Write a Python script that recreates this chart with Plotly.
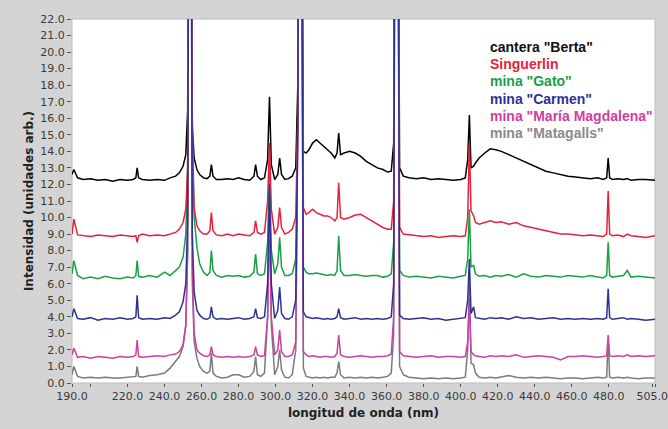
import plotly.graph_objects as go

# Wavelength grid (nm)
wavelength = [
    190, 191, 193, 196, 200, 204, 208, 212, 216, 220,
    223, 224.5, 225.2, 226, 228, 232, 236, 240, 243, 246,
    248, 250, 251.5, 252.5, 253.3, 253.7, 254.2, 255, 256, 257.5,
    259, 261, 263, 264.5, 265.3, 266.2, 268, 271, 274, 277,
    280, 283, 286, 288.3, 289.2, 290.2, 292, 294, 295.7, 296.7,
    297.7, 299.5, 301.2, 302.2, 303.2, 305, 307, 309, 310.9, 312,
    312.7, 313.2, 313.8, 315, 316.5, 318, 320, 322, 324, 326,
    328, 330, 332, 333.2, 334.1, 335.1, 337, 340, 343, 346,
    349, 352, 355, 358, 360.5, 362.5, 363.8, 364.6, 365.2, 365.9,
    367, 369, 372, 376, 380, 384, 388, 392, 396, 400,
    402.5, 403.8, 404.7, 405.6, 407, 408, 410, 413, 416, 419,
    422, 426, 430, 434, 438, 442, 446, 450, 454, 458,
    462, 466, 470, 474, 477, 478.9, 479.7, 480.5, 482, 485,
    488, 490, 492, 496, 500, 505,
]

berta = [
    12.6, 12.9, 12.4, 12.3, 12.35, 12.25, 12.3, 12.2, 12.3, 12.25,
    12.3, 12.4, 13.0, 12.4, 12.3, 12.25, 12.3, 12.25, 12.4, 12.5,
    12.7, 13.1, 13.8, 16.5, 40, 60, 40, 15.5, 13.6, 12.9,
    12.6, 12.4, 12.35, 12.5, 13.2, 12.5, 12.3, 12.3, 12.35, 12.3,
    12.4, 12.3, 12.25, 12.5, 13.2, 12.5, 12.3, 12.4, 13.5, 17.3,
    13.2, 12.3, 12.6, 13.6, 12.6, 12.3, 12.35, 12.5, 13.0, 18,
    40, 60, 40, 14.0, 13.9, 14.1, 14.5, 14.7, 14.5, 14.3,
    14.1, 13.9, 13.6, 13.9, 15.1, 13.8, 13.9, 14.0, 13.9, 13.7,
    13.4, 13.2, 13.0, 12.9, 12.75, 12.8, 14.5, 40, 60, 40,
    13.0, 12.5, 12.4, 12.35, 12.4, 12.3, 12.35, 12.3, 12.25, 12.3,
    12.4, 13.5, 16.2, 13.0, 13.1, 13.3, 13.6, 13.9, 14.15, 14.1,
    14.0, 13.8, 13.6, 13.4, 13.2, 13.0, 12.8, 12.7, 12.6, 12.5,
    12.45, 12.4, 12.35, 12.4, 12.3, 12.4, 13.6, 12.4, 12.3, 12.35,
    12.3, 12.35, 12.25, 12.3, 12.3, 12.25,
]

singuerlin = [
    9.0, 9.9, 8.95, 8.9, 8.85, 8.95, 8.9, 8.85, 8.95, 8.9,
    8.85, 8.9, 8.5, 8.9, 9.0, 8.9, 8.95, 8.9, 9.0, 9.1,
    9.3, 9.7, 10.5, 13, 40, 60, 40, 14, 10.6, 9.5,
    9.2, 9.0, 9.0, 9.2, 10.3, 9.2, 8.95, 8.9, 9.0, 8.9,
    9.0, 8.95, 8.9, 9.1, 9.8, 9.1, 9.0, 9.1, 11, 14.5,
    10.5, 9.0, 9.4, 10.6, 9.4, 9.0, 9.1, 9.3, 10.0, 16,
    40, 60, 40, 10.6, 10.2, 10.3, 10.5, 10.3, 10.2, 10.1,
    10.1, 10.0, 9.8, 10.0, 12.1, 10.0, 9.9, 10.0, 10.15, 10.2,
    10.0, 9.8, 9.6, 9.4, 9.3, 9.3, 11, 40, 60, 40,
    9.4, 9.0, 8.95, 8.9, 8.85, 8.9, 8.8, 8.85, 8.9, 8.85,
    8.9, 10.0, 14.5, 10.4, 10.1, 9.7, 9.6, 9.7, 9.8, 9.7,
    9.75, 9.6, 9.7, 9.5, 9.4, 9.3, 9.2, 9.1, 9.0, 9.0,
    8.95, 8.9, 8.95, 8.9, 8.85, 9.0, 11.6, 9.0, 8.9, 8.95,
    8.85, 9.0, 8.9, 8.85, 8.8, 8.9,
]

gato = [
    6.6, 7.4, 6.5, 6.3, 6.4, 6.3, 6.45, 6.35, 6.3, 6.4,
    6.35, 6.5, 7.4, 6.45, 6.4, 6.5, 6.4, 6.7, 6.5, 6.8,
    7.0, 7.6, 9.0, 13, 40, 60, 40, 16, 10, 8.2,
    7.2, 6.7, 6.5, 6.7, 8.0, 6.8, 6.5, 6.4, 6.5, 6.45,
    6.5, 6.4, 6.45, 6.7, 7.8, 6.6, 6.5, 6.6, 8.5, 13,
    8.0, 6.6, 7.2, 8.8, 7.0, 6.5, 6.5, 6.6, 7.5, 16,
    40, 60, 40, 7.0, 6.7, 6.6, 6.6, 6.65, 6.6, 6.55,
    6.5, 6.55, 6.5, 6.8, 8.9, 6.8, 6.5, 6.5, 6.55, 6.5,
    6.45, 6.5, 6.5, 6.4, 6.45, 6.6, 8.5, 40, 60, 40,
    6.8, 6.5, 6.4, 6.45, 6.4, 6.35, 6.45, 6.4, 6.35, 6.45,
    6.5, 7.5, 10.5, 7.0, 7.1, 6.6, 6.45, 6.5, 6.4, 6.5,
    6.45, 6.55, 6.4, 6.6, 6.45, 6.4, 6.5, 6.45, 6.4, 6.5,
    6.45, 6.4, 6.5, 6.4, 6.35, 6.5, 8.5, 6.5, 6.4, 6.45,
    6.5, 6.8, 6.4, 6.45, 6.4, 6.35,
]

carmen = [
    4.0, 4.5, 3.9, 3.85, 3.95, 3.8, 3.9, 3.85, 3.95, 3.85,
    3.9, 4.0, 5.3, 3.95, 3.85, 3.9, 3.85, 3.95, 3.9, 4.1,
    4.3, 4.9, 6.0, 10, 40, 60, 40, 9, 5.5, 4.4,
    4.1, 3.9, 3.85, 3.95, 4.6, 4.0, 3.85, 3.9, 3.85, 3.9,
    3.95, 3.85, 3.9, 4.0, 4.5, 3.95, 3.9, 4.0, 6, 12,
    6.0, 3.9, 4.4, 5.8, 4.2, 3.9, 3.85, 4.0, 5.0, 16,
    40, 60, 40, 4.3, 4.0, 3.95, 3.9, 3.95, 3.9, 3.85,
    3.9, 3.85, 3.9, 4.0, 4.5, 3.95, 3.85, 3.9, 3.95, 3.85,
    3.9, 3.85, 3.9, 3.85, 3.9, 4.0, 6, 40, 60, 40,
    4.1, 3.9, 3.85, 3.9, 3.95, 3.85, 3.9, 3.8, 3.85, 3.9,
    3.95, 5.0, 7.5, 4.2, 4.6, 3.95, 3.9, 3.85, 3.95, 3.9,
    3.95, 3.85, 4.0, 3.9, 3.95, 3.85, 3.9, 3.95, 3.85, 3.9,
    3.85, 3.9, 3.85, 3.9, 3.85, 3.95, 5.7, 3.95, 3.85, 3.9,
    3.95, 3.85, 3.9, 3.85, 3.8, 3.85,
]

magdalena = [
    1.7, 2.1, 1.55, 1.6, 1.5, 1.6, 1.55, 1.5, 1.6, 1.55,
    1.6, 1.7, 2.6, 1.6, 1.55, 1.6, 1.65, 1.6, 1.7, 1.75,
    1.9, 2.3, 3.5, 8, 40, 60, 40, 7, 3.0, 2.0,
    1.8, 1.65, 1.6, 1.7, 2.2, 1.7, 1.6, 1.55, 1.6, 1.55,
    1.6, 1.55, 1.6, 1.7, 2.2, 1.7, 1.6, 1.65, 4, 10,
    4.0, 1.7, 2.0, 3.2, 1.9, 1.6, 1.6, 1.7, 2.5, 15,
    40, 60, 40, 1.9, 1.7, 1.6, 1.65, 1.6, 1.55, 1.6,
    1.6, 1.55, 1.6, 1.8, 2.9, 1.7, 1.6, 1.55, 1.6, 1.65,
    1.6, 1.55, 1.6, 1.6, 1.65, 1.75, 4, 40, 60, 40,
    1.9, 1.65, 1.6, 1.55, 1.6, 1.65, 1.55, 1.6, 1.6, 1.55,
    1.6, 2.5, 5.0, 1.9, 1.7, 1.65, 1.6, 1.55, 1.65, 1.6,
    1.65, 1.6, 1.7, 1.55, 1.6, 1.65, 1.6, 1.55, 1.4, 1.6,
    1.6, 1.65, 1.6, 1.55, 1.6, 1.65, 2.9, 1.65, 1.6, 1.65,
    1.6, 1.7, 1.6, 1.65, 1.6, 1.65,
]

matagalls = [
    0.5, 1.0, 0.4, 0.3, 0.35, 0.3, 0.35, 0.3, 0.3, 0.35,
    0.35, 0.4, 1.0, 0.4, 0.35, 0.45, 0.5, 0.6, 0.9, 1.3,
    1.6, 2.2, 3.5, 8, 40, 60, 40, 6, 2.5, 1.5,
    1.0, 0.7, 0.6, 0.7, 1.8, 0.6, 0.4, 0.3, 0.35, 0.5,
    0.5, 0.35, 0.4, 0.7, 1.6, 0.5, 0.4, 0.6, 4, 12,
    3.5, 0.5, 1.0, 2.0, 0.8, 0.35, 0.3, 0.5, 2.0, 16,
    40, 60, 40, 0.9, 0.4, 0.35, 0.3, 0.35, 0.3, 0.35,
    0.3, 0.35, 0.35, 0.6, 1.3, 0.5, 0.3, 0.35, 0.3, 0.35,
    0.3, 0.35, 0.3, 0.35, 0.4, 0.6, 3, 40, 60, 40,
    1.0, 0.5, 0.35, 0.3, 0.25, 0.3, 0.25, 0.3, 0.25, 0.3,
    0.35, 2, 6, 1.2, 1.1, 0.6, 0.35, 0.3, 0.35, 0.3,
    0.35, 0.45, 0.35, 0.3, 0.35, 0.3, 0.35, 0.3, 0.25, 0.3,
    0.3, 0.25, 0.3, 0.35, 0.3, 0.35, 2.7, 0.35, 0.3, 0.35,
    0.3, 0.35, 0.3, 0.25, 0.3, 0.3,
]

series_names = ['cantera "Berta"', 'Singuerlin', 'mina "Gato"', 'mina "Carmen"',
                'mina "María Magdalena"', 'mina "Matagalls"']
series_values = [berta, singuerlin, gato, carmen, magdalena, matagalls]
series_colors = ["#000000", "#e8203c", "#17a046", "#2e3192", "#cc3fa3", "#7b7b7b"]
legend_colors = ["#111111", "#e8203c", "#17a046", "#2e3192", "#cc3fa3", "#8a8a8a"]

# tick marks as in the original (two marks near the end, label on the first)
x_tickvals = [190, 200, 220, 240, 260, 280, 300, 320, 340, 360, 380, 400,
              420, 440, 460, 480, 503.5, 505]
x_ticktext = ["190.0", "", "220.0", "240.0", "260.0", "280.0", "300.0", "320.0",
              "340.0", "360.0", "380.0", "400.0", "420.0", "440.0", "460.0",
              "480.0", "505.0", ""]
y_tickvals = list(range(0, 23))
y_ticktext = [f"{v:.1f}" for v in y_tickvals]

for name, vals in zip(series_names, series_values):
    if len(vals) != len(wavelength):
        raise ValueError(f"{name}: {len(vals)} vs {len(wavelength)}")

fig = go.Figure()
draw_order = [0, 2, 1, 5, 4, 3]
for i in draw_order:
    fig.add_trace(go.Scatter(
        x=wavelength, y=series_values[i], mode="lines", name=series_names[i],
        line=dict(color=series_colors[i], width=1.5), showlegend=False,
    ))

legend_y = [20.3, 19.27, 18.25, 17.16, 16.13, 15.1]
for name, col, yy in zip(series_names, legend_colors, legend_y):
    fig.add_annotation(x=414.7, y=yy, xref="x", yref="y", text=name, showarrow=False,
                       xanchor="left", yanchor="middle",
                       font=dict(family="Liberation Sans, Arial", size=14, color=col, weight="bold"))

fig.update_layout(
    width=668, height=429,
    margin=dict(l=72, r=13, t=19, b=46, autoexpand=False),
    paper_bgcolor="#d4d4d4",
    plot_bgcolor="#ffffff",
    font=dict(family="DejaVu Sans", color="#333333"),
    xaxis=dict(
        range=[190, 505], tickvals=x_tickvals, ticktext=x_ticktext,
        ticks="outside", ticklen=3, tickcolor="#555555", automargin=False,
        ticklabeloverflow="allow",
        showgrid=False, zeroline=False, showline=False,
        tickfont=dict(size=11, color="#3a3a3a", family="DejaVu Sans"),
        title=dict(text="<b>longitud de onda (nm)</b>", standoff=6,
                   font=dict(size=12, color="#222222", family="DejaVu Sans")),
    ),
    yaxis=dict(
        range=[0, 22], tickvals=y_tickvals, ticktext=y_ticktext,
        ticks="outside", ticklen=4, tickcolor="#555555", automargin=False,
        showgrid=False, zeroline=False, showline=False,
        tickfont=dict(size=11, color="#3a3a3a", family="DejaVu Sans"),
        title=dict(text="<b>Intensidad (unidades arb.)</b>", standoff=4,
                   font=dict(size=12, color="#222222", family="DejaVu Sans")),
    ),
    shapes=[
        dict(type="rect", xref="paper", yref="paper", x0=0, x1=1, y0=0, y1=1,
             line=dict(color="#bdbdbd", width=1), layer="below"),
    ],
)

fig.write_html("out.html", config={"displayModeBar": False},
               post_script="document.body.style.margin='0';")
